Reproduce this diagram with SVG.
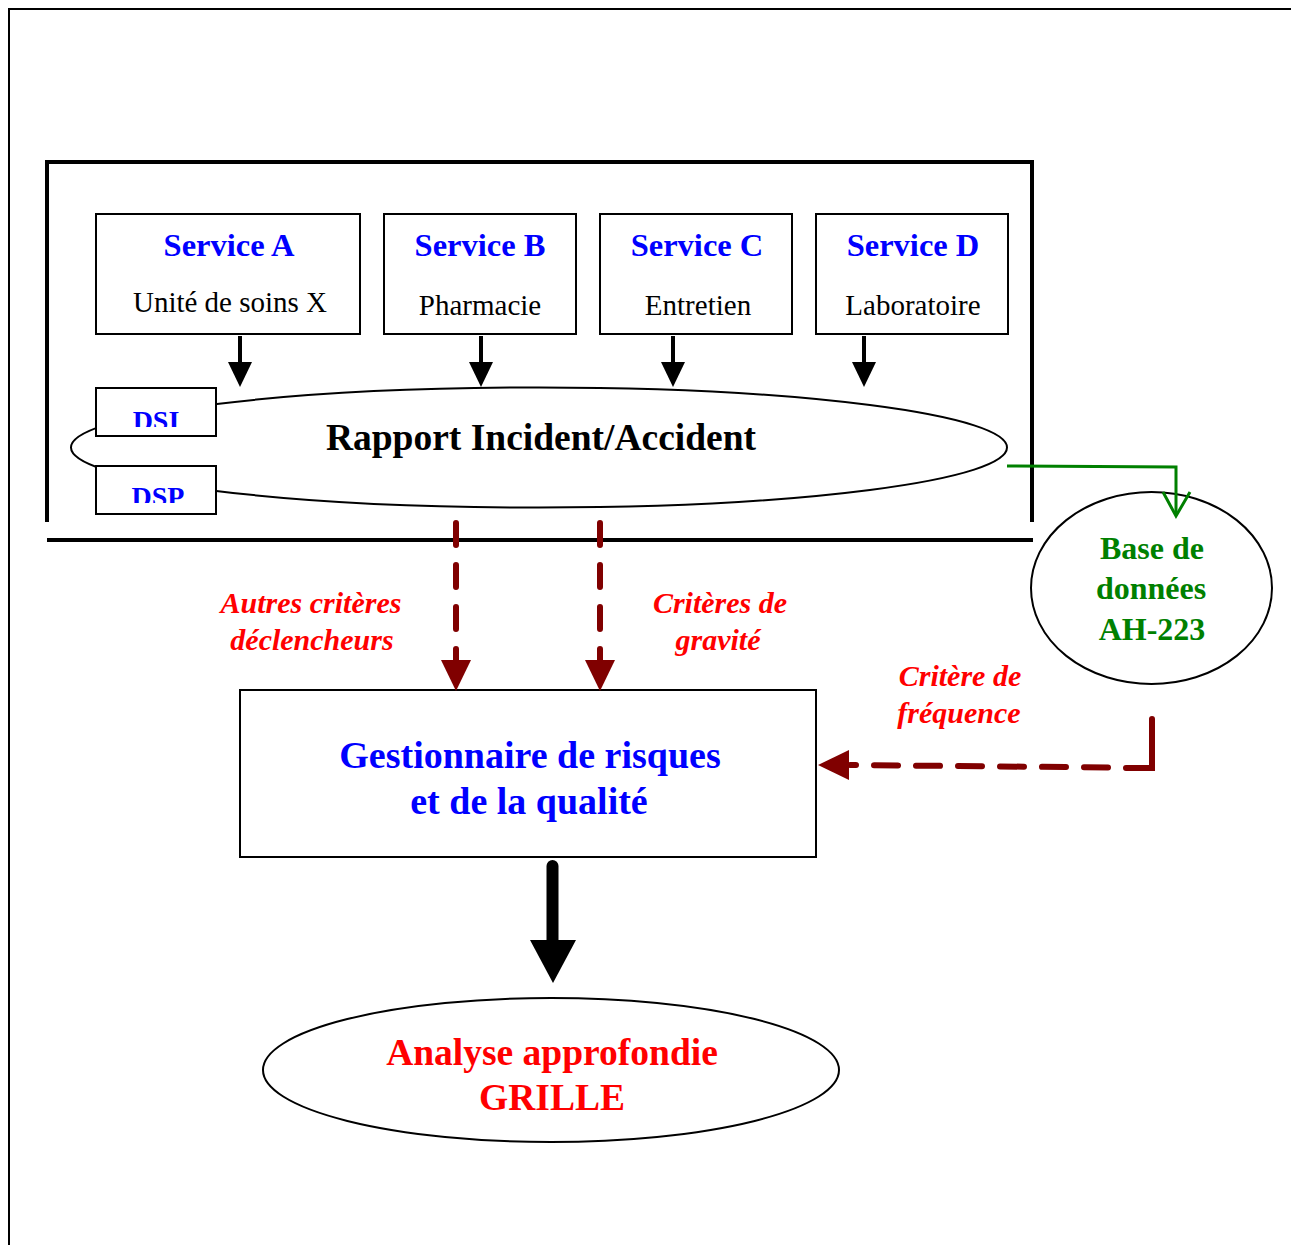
<svg xmlns="http://www.w3.org/2000/svg" width="1291" height="1245" viewBox="0 0 1291 1245">
  <style>
    text { font-family: "Liberation Serif", "Times New Roman", serif; text-anchor: middle; }
    .box { fill: #fff; stroke: #000; stroke-width: 2; }
    .title { font-weight: bold; fill: #0000ff; font-size: 32.5px; }
    .sub { fill: #000; font-size: 29px; }
    .tag { font-weight: bold; fill: #0000ff; font-size: 28px; }
    .crit { font-weight: bold; font-style: italic; fill: #ff0000; font-size: 30px; }
    .big { font-weight: bold; font-size: 37.5px; }
    .db { font-weight: bold; fill: #008000; font-size: 32px; }
    .dash { fill: none; stroke: #800000; stroke-width: 6; stroke-linecap: round; stroke-dasharray: 22 20; }
    .feed { stroke: #000; stroke-width: 4; }
  </style>
  <defs>
    <clipPath id="clipDSI"><rect x="96" y="388" width="120" height="39"/></clipPath>
    <clipPath id="clipDSP"><rect x="96" y="466" width="120" height="37"/></clipPath>
  </defs>

  <!-- outer page frame -->
  <rect x="9" y="9" width="1310" height="1300" fill="none" stroke="#000" stroke-width="2"/>

  <!-- hospital services frame -->
  <g id="services-frame" fill="none" stroke="#000" stroke-width="4">
    <polyline points="47,522 47,162 1032,162 1032,522"/>
    <line x1="47" y1="540" x2="1033" y2="540"/>
  </g>

  <g id="service-a">
    <rect class="box" x="96" y="214" width="264" height="120"/>
    <text class="title" x="229" y="256">Service A</text>
    <text class="sub" x="230" y="312">Unité de soins X</text>
  </g>
  <g id="service-b">
    <rect class="box" x="384" y="214" width="192" height="120"/>
    <text class="title" x="480" y="256">Service B</text>
    <text class="sub" x="480" y="315">Pharmacie</text>
  </g>
  <g id="service-c">
    <rect class="box" x="600" y="214" width="192" height="120"/>
    <text class="title" x="697" y="256">Service C</text>
    <text class="sub" x="698" y="315">Entretien</text>
  </g>
  <g id="service-d">
    <rect class="box" x="816" y="214" width="192" height="120"/>
    <text class="title" x="913" y="256">Service D</text>
    <text class="sub" x="913" y="315">Laboratoire</text>
  </g>

  <g id="rapport">
    <ellipse cx="539" cy="447.5" rx="468" ry="60" fill="#fff" stroke="#000" stroke-width="2"/>
    <text class="big" x="541" y="450" fill="#000">Rapport Incident/Accident</text>
  </g>
  <g id="dsi">
    <rect class="box" x="96" y="388" width="120" height="48"/>
    <text class="tag" x="156" y="430" clip-path="url(#clipDSI)">DSI</text>
  </g>
  <g id="dsp">
    <rect class="box" x="96" y="466" width="120" height="48"/>
    <text class="tag" x="158" y="506" clip-path="url(#clipDSP)">DSP</text>
  </g>

  <g id="base-donnees">
    <ellipse cx="1151.5" cy="588" rx="120.5" ry="96" fill="#fff" stroke="#000" stroke-width="2"/>
    <text class="db" x="1152" y="559">Base de</text>
    <text class="db" x="1151" y="599">données</text>
    <text class="db" x="1152" y="640">AH-223</text>
  </g>

  <g id="gestionnaire">
    <rect class="box" x="240" y="690" width="576" height="167"/>
    <text class="big" x="530" y="768" fill="#0000ff" style="font-size:38px">Gestionnaire de risques</text>
    <text class="big" x="529" y="814" fill="#0000ff" style="font-size:38px">et de la qualité</text>
  </g>

  <g id="analyse">
    <ellipse cx="551" cy="1070" rx="288" ry="72" fill="#fff" stroke="#000" stroke-width="2"/>
    <text class="big" x="552" y="1065" fill="#ff0000">Analyse approfondie</text>
    <text class="big" x="552" y="1110" fill="#ff0000">GRILLE</text>
  </g>

  <g id="connectors">
    <!-- services to report -->
    <line class="feed" x1="240" y1="336" x2="240" y2="364"/>
    <polygon points="228,362 252,362 240,387"/>
    <line class="feed" x1="481" y1="336" x2="481" y2="364"/>
    <polygon points="469,362 493,362 481,387"/>
    <line class="feed" x1="673" y1="336" x2="673" y2="364"/>
    <polygon points="661,362 685,362 673,387"/>
    <line class="feed" x1="864" y1="336" x2="864" y2="364"/>
    <polygon points="852,362 876,362 864,387"/>

    <!-- report to database -->
    <polyline points="1007,466 1176,467 1176,515" fill="none" stroke="#008000" stroke-width="3"/>
    <polyline points="1163,492 1176,516 1190,492" fill="none" stroke="#008000" stroke-width="3" stroke-linejoin="miter"/>

    <!-- report to risk manager -->
    <line class="dash" x1="456" y1="523" x2="456" y2="660"/>
    <polygon points="441,660 471,660 456,691" fill="#800000"/>
    <line class="dash" x1="600" y1="523" x2="600" y2="660"/>
    <polygon points="585,660 615,660 600,691" fill="#800000"/>

    <!-- database to risk manager -->
    <polyline points="1152,719 1152,768 1126,768" fill="none" stroke="#800000" stroke-width="6" stroke-linecap="round"/>
    <line class="dash" x1="1108" y1="767.5" x2="850" y2="765" style="stroke-dasharray: 24 18"/>
    <polygon points="849,750 849,780 818,765" fill="#800000"/>

    <!-- risk manager to analysis -->
    <line x1="552.5" y1="866" x2="552.5" y2="942" stroke="#000" stroke-width="12" stroke-linecap="round"/>
    <polygon points="530,940 576,940 553,983"/>
  </g>

  <g id="labels">
    <text class="crit" x="311" y="613">Autres critères</text>
    <text class="crit" x="312" y="650">déclencheurs</text>
    <text class="crit" x="720" y="613">Critères de</text>
    <text class="crit" x="718" y="650">gravité</text>
    <text class="crit" x="960" y="686">Critère de</text>
    <text class="crit" x="959" y="723">fréquence</text>
  </g>
</svg>
